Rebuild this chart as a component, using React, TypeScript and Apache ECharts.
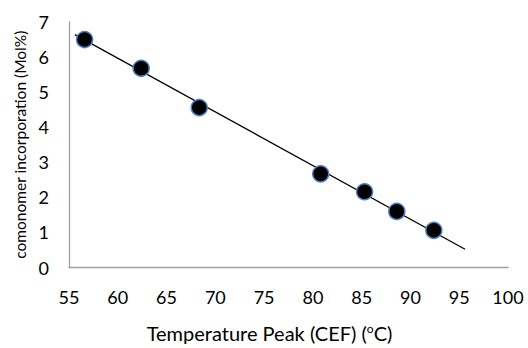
import React, { useEffect, useRef } from "react";
import * as echarts from "echarts";

const tempPeak = [56.6, 62.4, 68.35, 80.8, 85.3, 88.6, 92.4];
const comonomer = [6.5, 5.68, 4.56, 2.67, 2.16, 1.6, 1.06];
const trendX = [55.6, 95.6];
const trendY = [6.64, 0.52];
const xTitle = "Temperature Peak (CEF) (";
const yTitle = "comonomer incorporation (Mol%)";

export default function App() {
  const ref = useRef<HTMLDivElement>(null);
  useEffect(() => {
    if (!ref.current) return;
    const chart = echarts.init(ref.current, undefined, { renderer: "svg" });
    const font = "Lato, 'Open Sans', sans-serif";
    chart.setOption({
      animation: false,
      backgroundColor: "#ffffff",
      grid: { left: 69, top: 22, right: 20, bottom: 76, containLabel: false },
      xAxis: {
        type: "value",
        min: 55,
        max: 100,
        interval: 5,
        splitLine: { show: false },
        axisTick: { show: false },
        axisLine: { lineStyle: { color: "#a0a0a0", width: 1.3 } },
        axisLabel: { color: "#000", fontSize: 18, fontFamily: font, margin: 20 },
        name: xTitle + "{sup|o}C)",
        nameLocation: "middle",
        nameGap: 55,
        nameTextStyle: {
          color: "#000",
          fontSize: 20,
          fontFamily: font,
          padding: [0, 38, 0, 0],
          rich: { sup: { fontSize: 12, verticalAlign: "top", padding: [0, 0, 9, 0], fontFamily: font, color: "#000" } },
        },
      },
      yAxis: {
        type: "value",
        min: 0,
        max: 7,
        interval: 1,
        splitLine: { show: false },
        axisTick: { show: false },
        axisLine: { show: true, lineStyle: { color: "#a0a0a0", width: 1.3 } },
        axisLabel: { color: "#000", fontSize: 18, fontFamily: font, margin: 20 },
        name: yTitle,
        nameLocation: "middle",
        nameGap: 38,
        nameTextStyle: { color: "#000", fontSize: 15.5, fontFamily: font },
      },
      series: [
        {
          type: "line",
          data: trendX.map((x, i) => [x, trendY[i]]),
          symbol: "none",
          lineStyle: { color: "#000", width: 1.3 },
          z: 1,
        },
        {
          type: "scatter",
          data: tempPeak.map((x, i) => [x, comonomer[i]]),
          symbolSize: 16,
          itemStyle: { color: "#000", borderColor: "#4f81c7", borderWidth: 1.5, opacity: 1 },
          z: 2,
        },
      ],
    });
    return () => chart.dispose();
  }, []);
  return (
    <div
      ref={ref}
      style={{ position: "fixed", left: 0, top: 0, width: 528, height: 348 }}
    />
  );
}
